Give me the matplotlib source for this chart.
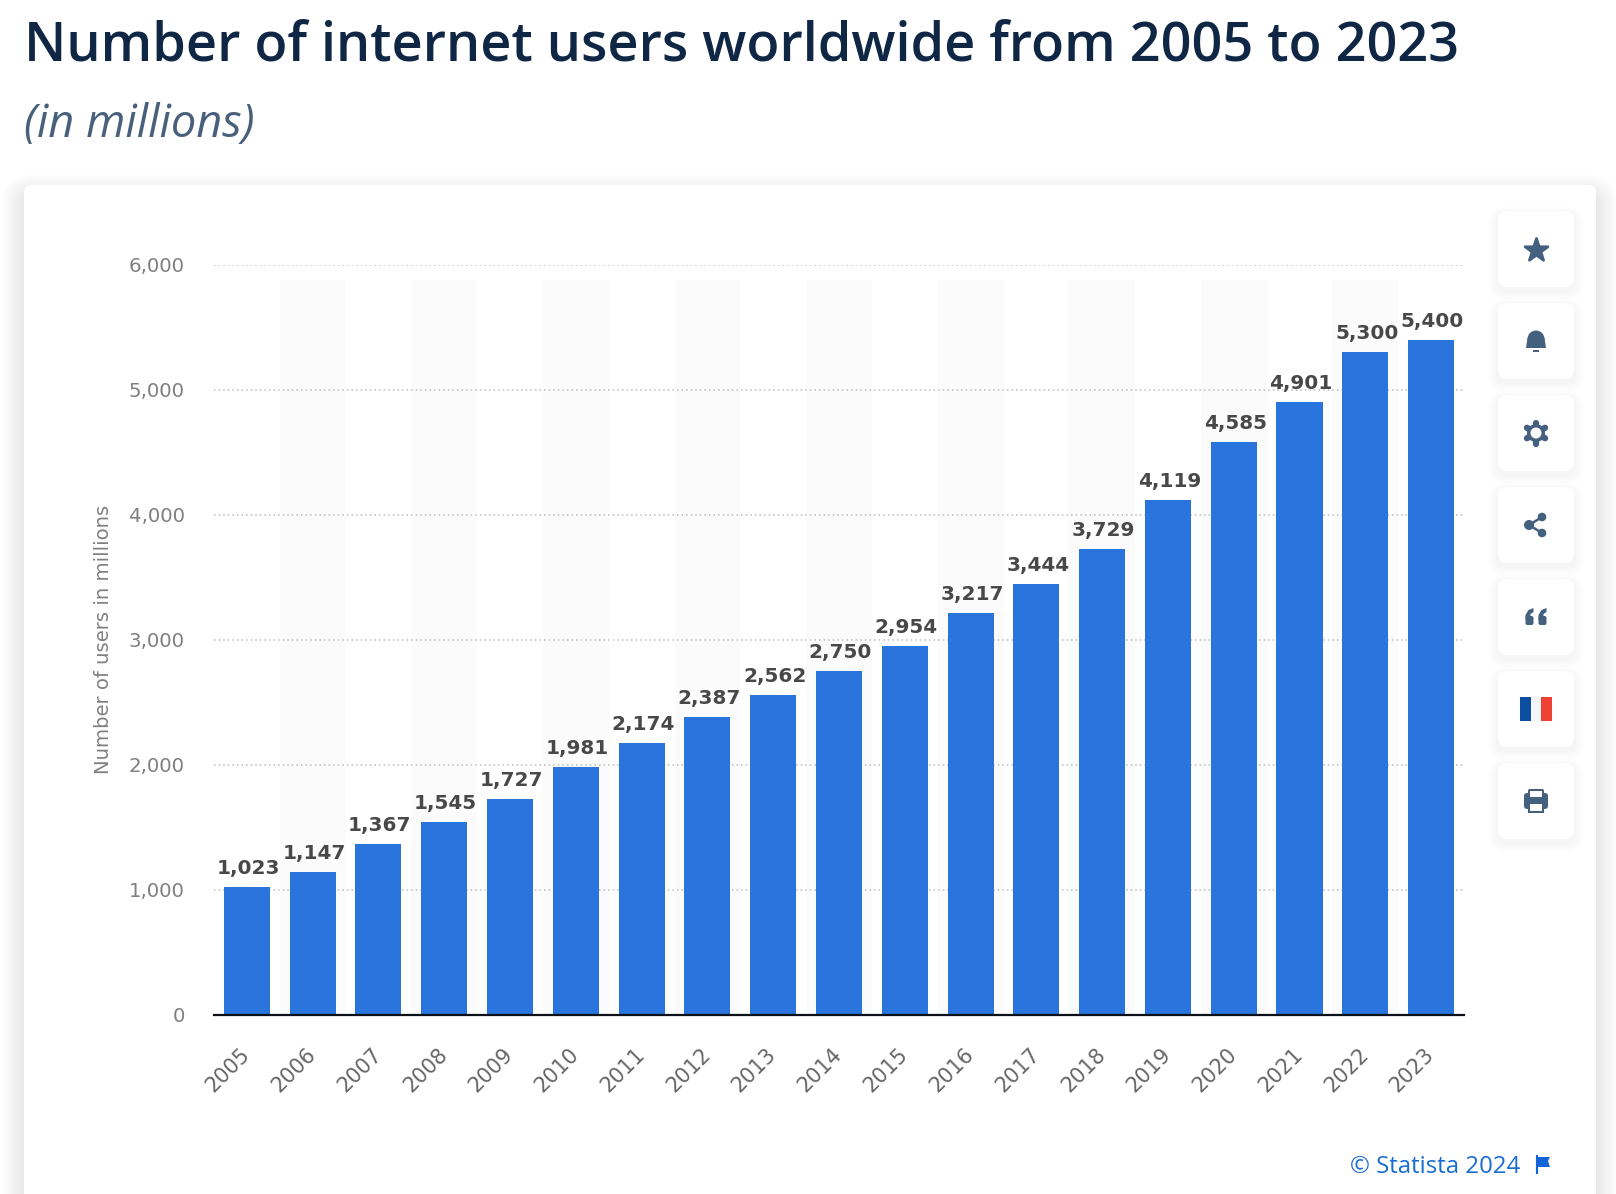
import numpy as np
import matplotlib
matplotlib.use("Agg")
import matplotlib.pyplot as plt
from matplotlib.patches import FancyBboxPatch, Rectangle, Circle, Polygon, Wedge
from matplotlib.ticker import FuncFormatter

plt.rcParams['font.family'] = ['Open Sans', 'Noto Sans', 'DejaVu Sans']

years = [2005, 2006, 2007, 2008, 2009, 2010, 2011, 2012, 2013, 2014,
         2015, 2016, 2017, 2018, 2019, 2020, 2021, 2022, 2023]
users = [1023, 1147, 1367, 1545, 1727, 1981, 2174, 2387, 2562, 2750,
         2954, 3217, 3444, 3729, 4119, 4585, 4901, 5300, 5400]
y_ticks = [0, 1000, 2000, 3000, 4000, 5000, 6000]

W, H = 1616, 1194
ICON = '#44607f'

fig = plt.figure(figsize=(W / 100, H / 100), dpi=100, facecolor='white')

# page layer in pixel coordinates (card, shadows, side buttons)
bg = fig.add_axes([0, 0, 1, 1])
bg.set_xlim(0, W)
bg.set_ylim(H, 0)
bg.axis('off')


def rounded(x0, y0, x1, y1, r, **kw):
    p = FancyBboxPatch((x0 + r, y0 + r), x1 - x0 - 2 * r, y1 - y0 - 2 * r,
                       boxstyle=f"round,pad={r},rounding_size={r}", linewidth=0, **kw)
    bg.add_patch(p)
    return p


def shadow(x0, y0, x1, y1, spread, alpha, r=8):
    for s in np.linspace(spread, 1, int(spread)):
        rounded(x0 - s, y0 - s, x1 + s, y1 + s, r + s, facecolor='#5a7088', alpha=alpha)


shadow(24, 196, 1596, 1260, 22, 0.003)
rounded(24, 185, 1596, 1260, 8, facecolor='white')

tile_tops = [211, 303, 395, 487, 579, 671, 763]
for top in tile_tops:
    shadow(1498, top + 5, 1574, top + 79, 10, 0.004)
    rounded(1498, top, 1574, top + 76, 9, facecolor='white')

cx = 1536
# star
bg.scatter([cx], [250], marker='*', s=300, color=ICON, edgecolors=ICON, linewidths=2,
           joinstyle='round', zorder=5)
# bell
cy = 341
bg.add_patch(Wedge((cx, cy - 2), 8.5, 180, 360, facecolor=ICON, lw=0, zorder=5))
bg.add_patch(Polygon([(cx - 8.5, cy - 3), (cx + 8.5, cy - 3), (cx + 10, cy + 7), (cx - 10, cy + 7)],
                     facecolor=ICON, lw=0, zorder=5))
bg.add_patch(Rectangle((cx - 3, cy + 9), 6, 2, facecolor=ICON, lw=0, zorder=5))
# gear
cy = 433
for a in np.arange(0, 360, 60):
    ca, sa = np.cos(np.radians(a + 90)), np.sin(np.radians(a + 90))
    bg.plot([cx, cx + 10.5 * ca], [cy, cy + 10.5 * sa], color=ICON, lw=4.5, solid_capstyle='round', zorder=5)
bg.add_patch(Circle((cx, cy), 9, facecolor=ICON, lw=0, zorder=5))
bg.add_patch(Circle((cx, cy), 5.5, facecolor='white', lw=0, zorder=6))
# share
cy = 525
bg.plot([cx + 6, cx - 7, cx + 6], [cy - 8, cy, cy + 8], color=ICON, lw=1.8, zorder=5)
for dx, dy, rad in [(6, -8, 4.3), (-7, 0, 5), (6, 8, 4.3)]:
    bg.add_patch(Circle((cx + dx, cy + dy), rad, facecolor=ICON, lw=0, zorder=5))
# quote marks
cy = 617
for dx in (-6.5, 6.5):
    rounded(cx + dx - 4, cy - 1, cx + dx + 4, cy + 8, 2, facecolor=ICON, zorder=5)
    bg.add_patch(Polygon([(cx + dx - 4, cy + 3), (cx + dx - 4, cy - 2), (cx + dx - 1, cy - 7), (cx + dx + 4, cy - 9),
                          (cx + dx + 4, cy - 5), (cx + dx + 1, cy - 3), (cx + dx + 1, cy + 3)],
                         facecolor=ICON, lw=0, zorder=5))
# flag
bg.add_patch(Rectangle((1520, 697), 11, 24, facecolor='#0b4ea2', lw=0, zorder=5))
bg.add_patch(Rectangle((1531, 697), 10, 24, facecolor='#f4f6f9', lw=0, zorder=5))
bg.add_patch(Rectangle((1541, 697), 11, 24, facecolor='#ef4135', lw=0, zorder=5))
# printer
cy = 801
rounded(cx - 12, cy - 8, cx + 12, cy + 8, 3, facecolor=ICON, zorder=5)
rounded(cx - 8, cy - 12, cx + 8, cy - 2, 2, facecolor=ICON, zorder=5)
bg.add_patch(Rectangle((cx - 6, cy - 10), 12, 6, facecolor='white', lw=0, zorder=6))
bg.add_patch(Rectangle((cx - 8, cy + 2), 16, 10, facecolor=ICON, lw=0, zorder=6))
bg.add_patch(Rectangle((cx - 6, cy + 3), 12, 7, facecolor='white', lw=0, zorder=7))
# source flag
bg.plot([1537, 1537], [1156, 1173], color='#1264d8', lw=1.5, zorder=5)
bg.add_patch(Polygon([(1537, 1157), (1550, 1157), (1548, 1161), (1550, 1167), (1537, 1167)],
                     facecolor='#1264d8', lw=0, zorder=5))

# chart axes, one category = 65.79 px
left, right, top, bottom = 214, 1464, 264.8, 1015
ax = fig.add_axes([left / W, 1 - bottom / H, (right - left) / W, (bottom - top) / H])
ax.patch.set_alpha(0)
x = np.arange(len(years))
ax.set_xlim(-0.5, len(years) - 0.5)
ax.set_ylim(0, 6000)

for i in x[1::2]:
    ax.axvspan(i - 0.5, i + 0.5, ymax=0.98, color='#fbfbfb', lw=0, zorder=0)
ax.grid(axis='y', color='#bdbdbd', lw=1.1, linestyle=(0, (1, 2)), zorder=1)
ax.set_axisbelow(True)
ax.bar(x, users, width=0.7, color='#2975dd', zorder=2)

for xi, v in zip(x, users):
    ax.annotate(f"{v:,}", (xi, v), xytext=(1, 6.5), textcoords='offset points', ha='center', va='bottom',
                fontsize=14.4, color='#484848', fontweight='bold', family='DejaVu Sans', zorder=4)

for s in ('top', 'left', 'right'):
    ax.spines[s].set_visible(False)
ax.spines['bottom'].set_color('#0c1018')
ax.spines['bottom'].set_linewidth(1.6)

ax.set_yticks(y_ticks)
ax.yaxis.set_major_formatter(FuncFormatter(lambda v, _: f"{int(v):,}"))
ax.tick_params(axis='y', length=0, pad=21, labelsize=14.2, labelcolor='#808080')
ax.set_xticks(x)
ax.set_xticklabels(years, rotation=45, ha='right', va='center', rotation_mode='anchor')
ax.tick_params(axis='x', length=0, pad=26, labelsize=15, labelcolor='#666666')
for lab in ax.get_yticklabels() + ax.get_xticklabels():
    lab.set_family('DejaVu Sans')

fig.text(104 / W, 1 - 639 / H, "Number of users in millions", rotation=90, ha='center', va='center',
         fontsize=14.1, color='#808080', family='DejaVu Sans')
fig.text(24 / W, 1 - 60.5 / H, "Number of internet users worldwide from 2005 to 2023",
         fontsize=38.9, fontweight='semibold', color='#0f2744', va='baseline')
fig.text(24 / W, 1 - 137 / H, "(in millions)", fontsize=32.5, fontstyle='italic', color='#49607c', va='baseline')
fig.text(1350 / W, 1 - 1173 / H, "© Statista 2024", fontsize=17.3, color='#1a6dd0', va='baseline')

fig.savefig('out.png', dpi=100)
